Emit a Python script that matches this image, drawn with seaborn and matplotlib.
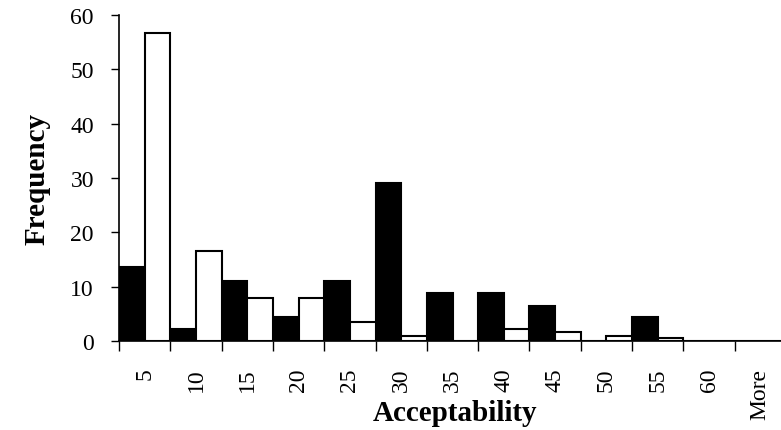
import numpy as np
import pandas as pd
import seaborn as sns
import matplotlib.pyplot as plt

# 直方图的分组（组上限）和两组频数
bins = ['5', '10', '15', '20', '25', '30', '35', '40', '45', '50', '55', '60', 'More']
freq_black = [13.6, 2.2, 11.1, 4.4, 11.1, 29.0, 8.9, 8.9, 6.5, 0, 4.4, 0, 0]
freq_white = [56.6, 16.6, 7.9, 7.9, 3.5, 1.0, 0, 2.3, 1.8, 1.0, 0.55, 0, 0]

df = pd.DataFrame({
    'Acceptability': bins * 2,
    'Frequency': freq_black + freq_white,
    'group': ['A'] * len(bins) + ['B'] * len(bins),
})

sns.set_style('ticks')
plt.rcParams['font.family'] = ['Liberation Serif', 'DejaVu Serif']
plt.rcParams['text.color'] = 'black'
plt.rcParams['axes.labelcolor'] = 'black'
plt.rcParams['xtick.color'] = 'black'
plt.rcParams['ytick.color'] = 'black'

fig = plt.figure(figsize=(7.81, 4.31), dpi=100)
ax = fig.add_axes([119 / 781, 88.7 / 431, 667 / 781, 326.6 / 431])

sns.barplot(data=df, x='Acceptability', y='Frequency', hue='group',
            order=bins, palette=['black', 'white'], width=1.0,
            edgecolor='black', linewidth=1.5, legend=False, ax=ax)

ax.set_ylim(0, 60)
ax.set_xlim(-0.5, len(bins) - 0.5)
ax.set_yticks(np.arange(0, 61, 10))
ax.tick_params(axis='y', labelsize=17, length=6, width=1, pad=12)

# 类别标签在中间，刻度线在类别边界
ax.set_xticks(range(len(bins)))
ax.set_xticklabels(bins, rotation=90, fontsize=17)
ax.tick_params(axis='x', which='major', length=0, pad=19)
ax.set_xticks(np.arange(-0.5, len(bins), 1), minor=True)
ax.tick_params(axis='x', which='minor', length=7, width=1)

ax.set_xlabel('Acceptability', fontsize=21, fontweight='bold', va='baseline')
ax.xaxis.set_label_coords((455 - 119) / 667, (342.3 - 421) / 326.6)
ax.set_ylabel('Frequency', fontsize=21, fontweight='bold', labelpad=14)

sns.despine(ax=ax)
for s in ['left', 'bottom']:
    ax.spines[s].set_color('black')
    ax.spines[s].set_linewidth(1.2)

fig.savefig('out.png', dpi=100)
